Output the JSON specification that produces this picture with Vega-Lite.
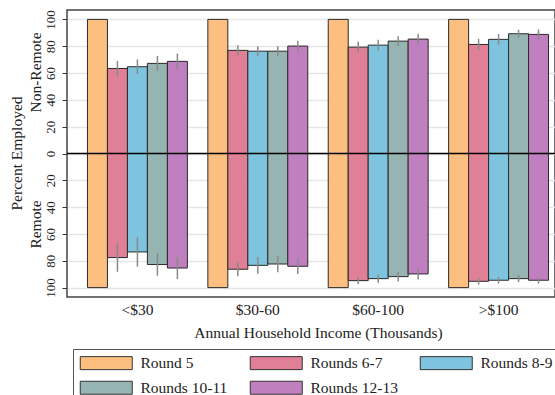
{
  "$schema": "https://vega.github.io/schema/vega-lite/v6.json",
  "width": 488,
  "height": 287,
  "autosize": {"type": "none"},
  "padding": {"left": 67, "top": 10, "right": 0, "bottom": 98},
  "config": {
    "font": "Liberation Serif",
    "view": {"stroke": "#444", "strokeWidth": 1.5}
  },
  "resolve": {"axis": {"y": "independent"}},
  "data": {
    "values": [
      {"income": "<$30", "round": "Round 5", "y": 100, "lo": 100, "hi": 100},
      {"income": "<$30", "round": "Rounds 6-7", "y": 63.4, "lo": 57.7, "hi": 69.1},
      {"income": "<$30", "round": "Rounds 8-9", "y": 64.7, "lo": 59.2, "hi": 70.2},
      {"income": "<$30", "round": "Rounds 10-11", "y": 67.2, "lo": 61.7, "hi": 72.7},
      {"income": "<$30", "round": "Rounds 12-13", "y": 68.7, "lo": 62.9, "hi": 74.5},
      {"income": "$30-60", "round": "Round 5", "y": 100, "lo": 100, "hi": 100},
      {"income": "$30-60", "round": "Rounds 6-7", "y": 76.9, "lo": 73.0, "hi": 80.8},
      {"income": "$30-60", "round": "Rounds 8-9", "y": 76.3, "lo": 72.6, "hi": 80.0},
      {"income": "$30-60", "round": "Rounds 10-11", "y": 76.3, "lo": 72.6, "hi": 80.0},
      {"income": "$30-60", "round": "Rounds 12-13", "y": 80.1, "lo": 76.1, "hi": 84.1},
      {"income": "$60-100", "round": "Round 5", "y": 100, "lo": 100, "hi": 100},
      {"income": "$60-100", "round": "Rounds 6-7", "y": 79.3, "lo": 75.1, "hi": 83.5},
      {"income": "$60-100", "round": "Rounds 8-9", "y": 80.8, "lo": 76.8, "hi": 84.8},
      {"income": "$60-100", "round": "Rounds 10-11", "y": 83.8, "lo": 80.1, "hi": 87.5},
      {"income": "$60-100", "round": "Rounds 12-13", "y": 85.3, "lo": 81.4, "hi": 89.2},
      {"income": ">$100", "round": "Round 5", "y": 100, "lo": 100, "hi": 100},
      {"income": ">$100", "round": "Rounds 6-7", "y": 81.3, "lo": 77.1, "hi": 85.5},
      {"income": ">$100", "round": "Rounds 8-9", "y": 85.1, "lo": 81.1, "hi": 89.1},
      {"income": ">$100", "round": "Rounds 10-11", "y": 89.3, "lo": 86.3, "hi": 92.3},
      {"income": ">$100", "round": "Rounds 12-13", "y": 88.8, "lo": 85.1, "hi": 92.5},
      {"income": "<$30", "round": "Round 5", "y": -100, "lo": -100, "hi": -100},
      {"income": "<$30", "round": "Rounds 6-7", "y": -77.6, "lo": -88.2, "hi": -67.0},
      {"income": "<$30", "round": "Rounds 8-9", "y": -73.4, "lo": -84.4, "hi": -62.4},
      {"income": "<$30", "round": "Rounds 10-11", "y": -82.8, "lo": -91.2, "hi": -74.4},
      {"income": "<$30", "round": "Rounds 12-13", "y": -85.4, "lo": -93.6, "hi": -77.2},
      {"income": "$30-60", "round": "Round 5", "y": -100, "lo": -100, "hi": -100},
      {"income": "$30-60", "round": "Rounds 6-7", "y": -86.3, "lo": -91.5, "hi": -81.1},
      {"income": "$30-60", "round": "Rounds 8-9", "y": -83.4, "lo": -89.7, "hi": -77.1},
      {"income": "$30-60", "round": "Rounds 10-11", "y": -82.4, "lo": -88.6, "hi": -76.2},
      {"income": "$30-60", "round": "Rounds 12-13", "y": -84.1, "lo": -89.9, "hi": -78.3},
      {"income": "$60-100", "round": "Round 5", "y": -100, "lo": -100, "hi": -100},
      {"income": "$60-100", "round": "Rounds 6-7", "y": -94.8, "lo": -97.5, "hi": -92.1},
      {"income": "$60-100", "round": "Rounds 8-9", "y": -93.3, "lo": -96.3, "hi": -90.3},
      {"income": "$60-100", "round": "Rounds 10-11", "y": -91.8, "lo": -95.5, "hi": -88.1},
      {"income": "$60-100", "round": "Rounds 12-13", "y": -89.8, "lo": -93.9, "hi": -85.7},
      {"income": ">$100", "round": "Round 5", "y": -100, "lo": -100, "hi": -100},
      {"income": ">$100", "round": "Rounds 6-7", "y": -95.3, "lo": -97.8, "hi": -92.8},
      {"income": ">$100", "round": "Rounds 8-9", "y": -94.5, "lo": -97.0, "hi": -92.0},
      {"income": ">$100", "round": "Rounds 10-11", "y": -93.3, "lo": -95.9, "hi": -90.7},
      {"income": ">$100", "round": "Rounds 12-13", "y": -94.5, "lo": -97.0, "hi": -92.0}
    ]
  },
  "layer": [
    {
      "mark": {"type": "bar", "stroke": "#2a2a2a", "strokeWidth": 1},
      "encoding": {
        "x": {
          "field": "income", "type": "nominal",
          "sort": ["<$30", "$30-60", "$60-100", ">$100"],
          "scale": {"range": [0, 502], "paddingInner": 0.17, "paddingOuter": 0.17},
          "title": "Annual Household Income (Thousands)",
          "axis": {
            "labelAngle": 0, "domain": false, "ticks": false, "grid": false,
            "labelFontSize": 15.5, "labelColor": "#222", "labelPadding": 5,
            "titleFontSize": 15.5, "titleFontWeight": "normal", "titleColor": "#222", "titlePadding": 8
          }
        },
        "xOffset": {
          "field": "round", "type": "nominal",
          "sort": ["Round 5", "Rounds 6-7", "Rounds 8-9", "Rounds 10-11", "Rounds 12-13"],
          "scale": {"paddingInner": 0, "paddingOuter": 0}
        },
        "y": {
          "field": "y", "type": "quantitative",
          "scale": {"domain": [-107, 107], "nice": false},
          "axis": {
            "orient": "left",
            "values": [-100, -80, -60, -40, -20, 0, 20, 40, 60, 80, 100],
            "labelExpr": "format(abs(datum.value), 'd')",
            "labelOverlap": false, "labelBound": false,
            "labelAngle": -90, "labelAlign": "center", "labelBaseline": "bottom",
            "labelFontSize": 13, "labelColor": "#222", "labelPadding": 5,
            "tickSize": 5, "tickColor": "#333", "domain": false,
            "grid": true, "gridColor": "#e6e6e6", "gridWidth": 1.5,
            "title": "Percent Employed",
            "titleFontSize": 15.5, "titleFontWeight": "normal", "titleColor": "#222",
            "titleAngle": -90, "titleBaseline": "alphabetic", "titleAlign": "center",
            "titleX": -46, "titleY": 143
          }
        },
        "color": {
          "field": "round", "type": "nominal",
          "scale": {
            "domain": ["Round 5", "Rounds 6-7", "Rounds 8-9", "Rounds 10-11", "Rounds 12-13"],
            "range": ["#FDBF80", "#E08096", "#7EC4DE", "#96B4B2", "#C07FBF"]
          },
          "legend": {
            "title": null, "orient": "none", "legendX": 6, "legendY": 339,
            "direction": "horizontal", "columns": 3,
            "symbolType": "M-1,-1H7V1H-1Z", "symbolSize": 169,
            "symbolStrokeColor": "#333", "symbolStrokeWidth": 1, "symbolOpacity": 1,
            "labelFontSize": 15.5, "labelColor": "#222", "labelOffset": 46,
            "columnPadding": 20, "rowPadding": 7, "padding": 6,
            "strokeColor": "#555", "fillColor": "white"
          }
        }
      }
    },
    {
      "mark": {"type": "rule", "color": "#8a8a8a", "strokeWidth": 1.5},
      "encoding": {
        "x": {"field": "income", "type": "nominal", "sort": ["<$30", "$30-60", "$60-100", ">$100"]},
        "xOffset": {"field": "round", "type": "nominal", "sort": ["Round 5", "Rounds 6-7", "Rounds 8-9", "Rounds 10-11", "Rounds 12-13"]},
        "y": {
          "field": "lo", "type": "quantitative",
          "axis": {
            "orient": "left", "labels": false, "ticks": false, "domain": false, "grid": false,
            "title": "Remote",
            "titleFontSize": 15.5, "titleFontWeight": "normal", "titleColor": "#222",
            "titleAngle": -90, "titleBaseline": "alphabetic", "titleAlign": "center",
            "titleX": -26.5, "titleY": 214
          }
        },
        "y2": {"field": "hi"}
      }
    },
    {
      "data": {"values": [{"zero": 0}]},
      "mark": {"type": "rule", "color": "black", "strokeWidth": 1.5},
      "encoding": {
        "y": {
          "field": "zero", "type": "quantitative",
          "axis": {
            "orient": "left", "labels": false, "ticks": false, "domain": false, "grid": false,
            "title": "Non-Remote",
            "titleFontSize": 15.5, "titleFontWeight": "normal", "titleColor": "#222",
            "titleAngle": -90, "titleBaseline": "alphabetic", "titleAlign": "center",
            "titleX": -26.5, "titleY": 62
          }
        }
      }
    }
  ]
}
